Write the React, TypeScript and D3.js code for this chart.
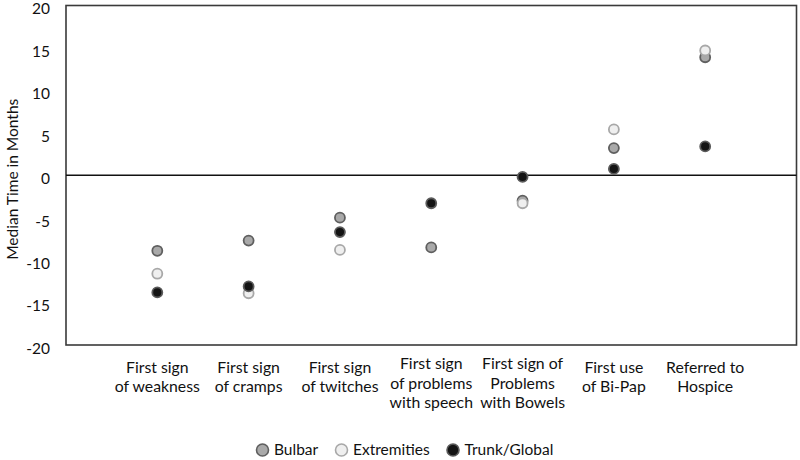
import React from "react";
import * as d3 from "d3";

const categories: string[][] = [
  ["First sign", "of weakness"],
  ["First sign", "of cramps"],
  ["First sign", "of twitches"],
  ["First sign", "of problems", "with speech"],
  ["First sign of", "Problems", "with Bowels"],
  ["First use", "of Bi-Pap"],
  ["Referred to", "Hospice"],
];

const bulbar = [-8.9, -7.7, -5.0, -8.5, -3.0, 3.2, 13.9];
const extremities = [-11.6, -13.9, -8.8, null, -3.3, 5.4, 14.7];
const trunk = [-13.8, -13.1, -6.7, -3.3, -0.2, 0.75, 3.4];

const yTicks = [-20, -15, -10, -5, 0, 5, 10, 15, 20];

const seriesNames = ["Bulbar", "Extremities", "Trunk/Global"];
const seriesData = [bulbar, extremities, trunk];
const fills = ["#a9a9a9", "#efefef", "#141414"];
const strokes = ["#5f5f5f", "#a8a8a8", "#5a5a5a"];

const W = 800;
const H = 460;
const FONT = "Lato, 'Open Sans', sans-serif";

export default function App() {
  const left = 66;
  const right = 796.5;
  const top = 5.5;
  const bottom = 345;
  const x = d3.scaleLinear().domain([0, categories.length + 1]).range([left, right]);
  const y = d3.scaleLinear().domain([-20, 20]).range([bottom, top]);

  const legendX = [262.5, 341.5, 453];

  return (
    <svg
      width={W}
      height={H}
      style={{ position: "absolute", left: 0, top: 0, background: "#fff" }}
      fontFamily={FONT}
    >
      <rect x={0} y={0} width={W} height={H} fill="#fff" />
      <rect
        x={left}
        y={top}
        width={right - left}
        height={bottom - top}
        fill="none"
        stroke="#3a3a3a"
        strokeWidth={1.6}
      />
      <line x1={left} x2={right} y1={y(0)} y2={y(0)} stroke="#111" strokeWidth={1.6} />
      {yTicks.map((t) => (
        <text
          key={t}
          x={50}
          y={y(t) + 3.5}
          dy="0.35em"
          textAnchor="end"
          fontSize={15.5}
          fill="#111"
        >
          {t}
        </text>
      ))}
      <text
        transform={`translate(13,${y(0) + 4}) rotate(-90)`}
        textAnchor="middle"
        dy="0.35em"
        fontSize={15.5}
        fill="#111"
      >
        Median Time in Months
      </text>
      {categories.map((lines, i) => {
        const y0 = lines.length === 3 ? 369 : 372.5;
        return (
          <text key={i} textAnchor="middle" fontSize={15.8} fill="#111">
            {lines.map((l, j) => (
              <tspan key={j} x={x(i + 1)} y={y0 + j * 19.5}>
                {l}
              </tspan>
            ))}
          </text>
        );
      })}
      {seriesData.map((s, si) => (
        <g key={si}>
          {s.map((v, i) =>
            v === null ? null : (
              <circle
                key={i}
                cx={x(i + 1)}
                cy={y(v)}
                r={5}
                fill={fills[si]}
                stroke={strokes[si]}
                strokeWidth={1.8}
              />
            )
          )}
        </g>
      ))}
      {seriesNames.map((n, si) => (
        <g key={n}>
          <circle
            cx={legendX[si]}
            cy={450}
            r={6}
            fill={fills[si]}
            stroke={strokes[si]}
            strokeWidth={1.6}
          />
          <text x={legendX[si] + 11.5} y={450} dy="0.35em" fontSize={15.5} fill="#111">
            {n}
          </text>
        </g>
      ))}
    </svg>
  );
}
